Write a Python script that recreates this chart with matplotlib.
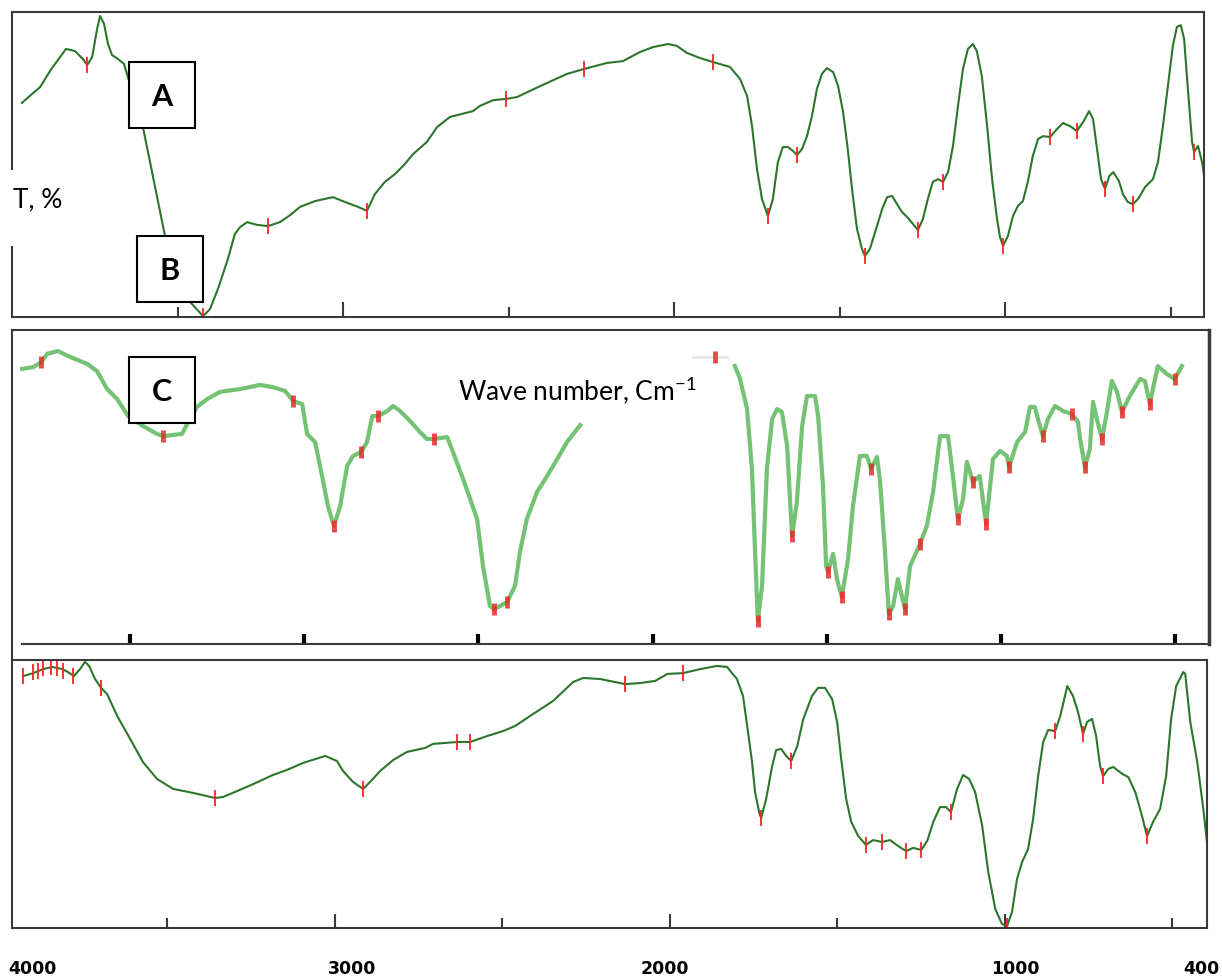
import numpy as np
import matplotlib.pyplot as plt
from matplotlib.patches import Rectangle
from matplotlib.ticker import FixedLocator

W, H = 1222, 978

# ---- spectrum A / B (top) : wavenumber, T
wn_top = [3970, 3946, 3915, 3885, 3855, 3837, 3810, 3786, 3773, 3758, 3743, 3734, 3722, 3710,
          3698, 3680, 3662, 3650, 3604, 3538, 3462, 3423, 3402, 3378, 3348, 3327, 3311, 3290,
          3260, 3227, 3191, 3160, 3130, 3085, 3031, 2994, 2955, 2928, 2904, 2874, 2843, 2813,
          2789, 2747, 2716, 2677, 2608, 2587, 2547, 2508, 2475, 2405, 2324, 2273, 2203, 2155,
          2103, 2064, 2019, 1992, 1962, 1922, 1883, 1832,
          1801, 1780, 1765, 1750, 1735, 1717, 1702, 1687, 1672, 1656, 1641, 1629, 1614, 1599,
          1584, 1569, 1554, 1539, 1520, 1505, 1490, 1477, 1462, 1448, 1433, 1424, 1409, 1393,
          1372, 1357, 1342, 1327, 1312, 1294, 1279, 1264, 1249, 1234, 1219, 1203, 1188, 1173,
          1158, 1143, 1128, 1113, 1098, 1086, 1071, 1055, 1040, 1025, 1016, 1007, 992, 977,
          962, 947, 932, 917, 901, 886, 865, 844, 826, 805, 784, 765, 747, 735, 723, 711, 699,
          686, 674, 657, 645, 630, 615, 599, 578, 554, 539, 524, 509, 494, 482, 470, 460, 448,
          436, 430, 418, 406, 397]
t_top = [70.2, 72.5, 75.4, 80.7, 85.2, 87.9, 87.2, 84.6, 82.6, 85.2, 94.4, 98.7, 96.1, 89.5,
         85.9, 84.6, 83.0, 78.7, 62.0, 26.6, 4.9, 0.3, 2.6, 9.2, 19.0, 27.2, 29.5, 31.1,
         30.2, 29.8, 31.1, 33.4, 36.1, 38.0, 39.3, 37.7, 36.1, 34.8, 40.3, 44.3, 46.9, 50.2,
         53.4, 57.4, 62.3, 65.6, 67.5, 69.2, 71.1, 71.5, 72.1, 75.7, 79.7, 81.3, 83.3, 83.9,
         86.9, 88.5, 89.5, 88.9, 86.6, 84.9, 83.6, 82.0,
         78.0, 72.5, 62.6, 48.5, 38.7, 33.1, 38.7, 50.8, 55.7, 55.7, 54.4, 53.1, 55.1, 59.3,
         65.9, 74.8, 79.7, 81.6, 80.3, 75.7, 67.2, 56.1, 41.0, 28.9, 22.3, 20.0, 22.3, 27.9,
         35.4, 39.3, 39.7, 37.0, 34.4, 32.5, 30.5, 28.5, 32.1, 38.7, 44.3, 45.2, 44.3, 47.5,
         56.1, 69.2, 81.3, 87.9, 89.5, 87.2, 79.0, 62.6, 45.2, 32.1, 26.2, 23.3, 26.6, 33.1,
         36.4, 38.0, 44.3, 52.8, 58.4, 59.3, 59.0, 61.6, 63.6, 62.6, 61.0, 63.9, 67.5, 64.9,
         55.1, 45.2, 42.0, 46.2, 47.5, 44.6, 40.3, 37.7, 37.0, 38.7, 42.6, 45.2, 50.8, 62.6,
         75.7, 88.9, 95.1, 95.7, 91.1, 73.8, 57.4, 54.1, 56.1, 50.8, 44.3]
pk_wn_top = [3773, 3423, 3227, 2928, 2508, 2273, 1883, 1717, 1629, 1424, 1264, 1188, 1007,
             865, 784, 699, 615, 430]
pk_t_top = [82.6, 0.3, 29.8, 34.8, 71.5, 81.3, 83.6, 33.1, 53.1, 20.0, 28.5, 44.3, 23.3,
            59.0, 61.0, 42.0, 37.0, 54.1]

# ---- spectrum C (middle)
wn_mid1 = [3810, 3778, 3755, 3738, 3707, 3672, 3623, 3595, 3566, 3537, 3506, 3463, 3423, 3405,
           3351, 3336, 3308, 3279, 3242, 3184, 3127, 3090, 3055, 3032, 3006, 2992, 2969, 2949,
           2932, 2915, 2897, 2877, 2860, 2837, 2820, 2805, 2788, 2762, 2745, 2725, 2696, 2668,
           2648, 2628, 2590, 2573, 2544, 2524, 2504, 2487, 2467, 2455, 2438, 2418, 2395, 2381,
           2361, 2332, 2303, 2274, 2246, 2208]
t_mid1 = [87.6, 88.2, 89.8, 92.4, 93.3, 91.4, 89.2, 86.9, 81.2, 78.0, 72.6, 69.4, 66.9, 66.2,
          66.9, 70.1, 75.5, 78.0, 80.3, 81.2, 82.5, 81.8, 80.6, 77.4, 76.4, 66.9, 64.3, 53.5,
          43.9, 37.6, 43.9, 56.7, 59.9, 61.1, 64.3, 72.6, 72.6, 74.2, 75.8, 74.2, 71.0, 67.5,
          65.3, 65.3, 65.9, 61.1, 52.5, 46.2, 39.8, 24.8, 12.1, 11.1, 12.1, 13.4, 18.5, 29.3,
          39.8, 48.4, 53.5, 58.9, 64.3, 69.7]
wn_mid_frag = [1884, 1787]
t_mid_frag = [91.4, 91.4]
wn_mid2 = [1764, 1749, 1729, 1715, 1706, 1698, 1686, 1672, 1657, 1643, 1629, 1614, 1600, 1586,
           1571, 1557, 1534, 1525, 1511, 1502, 1497, 1482, 1471, 1457, 1439, 1425, 1405, 1385,
           1373, 1356, 1347, 1333, 1322, 1310, 1296, 1276, 1261, 1233, 1213, 1195, 1175, 1152,
           1138, 1124, 1109, 1098, 1083, 1081, 1061, 1043, 1023, 1003, 983, 977, 954, 931, 917,
           903, 894, 880, 865, 845, 822, 796, 779, 773, 759, 745, 736, 725, 710, 696, 682, 667,
           653, 630, 601, 587, 573, 550, 524, 501, 481]
t_mid2 = [88.5, 84.4, 74.8, 55.7, 29.3, 7.3, 18.5, 55.7, 71.7, 74.8, 73.9, 63.1, 34.4, 45.2,
          69.4, 79.0, 79.0, 72.6, 50.3, 24.8, 22.9, 28.7, 20.7, 15.0, 27.1, 43.9, 59.9, 59.9,
          55.7, 59.6, 51.6, 29.3, 9.6, 12.1, 20.7, 11.1, 24.8, 31.8, 37.6, 48.4, 66.2, 66.2,
          53.5, 39.8, 46.2, 58.0, 52.5, 51.6, 53.5, 38.2, 58.9, 61.5, 59.9, 56.4, 64.3, 67.5, 75.5,
          75.5, 71.7, 66.2, 71.7, 75.8, 74.2, 73.2, 70.7, 65.3, 56.4, 62.1, 77.1, 71.7, 65.3, 73.9,
          83.8, 80.3, 73.9, 79.0, 84.4, 83.8, 76.4, 88.5, 86.0, 84.4, 88.5]
pk_wn_mid = [3755, 3405, 3032, 2915, 2837, 2788, 2628, 2455, 2418, 1822, 1698, 1600, 1497,
             1457, 1373, 1322, 1276, 1233, 1124, 1081, 1043, 977, 880, 796, 759, 710, 653, 573, 501]
pk_t_mid = [89.8, 66.2, 77.4, 37.6, 61.1, 72.6, 65.3, 11.1, 13.4, 91.4, 7.3, 34.4, 22.9,
            15.0, 55.7, 9.6, 11.1, 31.8, 39.8, 51.6, 38.2, 56.4, 66.2, 73.2, 56.4, 65.3, 73.9, 76.4, 84.4]

# ---- bottom spectrum
wn_bot = [3930, 3900, 3870, 3843, 3813, 3796, 3778, 3760, 3745, 3733, 3715, 3697, 3679, 3649,
          3610, 3572, 3530, 3482, 3422, 3357, 3333, 3291, 3243, 3184, 3142, 3094, 3028, 2993,
          2975, 2945, 2915, 2894, 2864, 2825, 2784, 2730, 2706, 2634, 2596, 2545, 2497, 2461,
          2407, 2348, 2288, 2258, 2207, 2133, 2088, 2043, 2007, 1960, 1909, 1858, 1828,
          1819, 1799, 1781, 1766, 1754, 1745, 1733, 1727, 1712, 1694, 1682, 1667, 1652, 1637,
          1619, 1601, 1575, 1557, 1536, 1515, 1500, 1488, 1473, 1458, 1437, 1414, 1393, 1366,
          1342, 1318, 1294, 1273, 1249, 1231, 1213, 1193, 1175, 1160, 1142, 1124, 1106, 1088,
          1067, 1049, 1028, 1008, 993, 978, 963, 948, 930, 915, 900, 885, 870, 849, 834, 813,
          796, 781, 766, 754, 739, 727, 715, 706, 691, 676, 649, 631, 610, 590, 575, 557, 536,
          518, 503, 488, 467, 461, 446, 425, 407, 396]
t_bot = [94.0, 95.1, 96.6, 97.4, 96.6, 95.5, 94.0, 96.6, 99.3, 97.8, 92.9, 89.6, 87.3, 79.1,
         70.5, 61.9, 55.6, 51.9, 50.4, 48.5, 48.9, 51.1, 53.7, 57.1, 59.0, 61.6, 64.2, 62.3,
         58.6, 54.5, 51.9, 54.5, 58.6, 62.7, 65.7, 67.2, 68.7, 69.4, 69.4, 71.6, 73.5, 75.4,
         79.9, 84.7, 91.8, 93.3, 92.9, 91.0, 91.4, 92.2, 94.8, 95.1, 96.6, 97.8, 97.4,
         95.9, 92.9, 86.6, 73.1, 61.9, 50.7, 43.3, 41.0, 48.1, 60.4, 66.4, 66.8, 64.2, 62.3,
         67.9, 78.0, 86.6, 89.6, 89.6, 85.4, 76.9, 63.1, 48.1, 39.6, 34.3, 31.0, 32.8, 32.1,
         32.8, 30.6, 28.7, 29.9, 29.1, 32.5, 39.6, 45.1, 45.1, 43.3, 51.9, 57.1, 55.6, 50.7,
         38.1, 20.9, 7.1, 1.5, 0.7, 6.0, 18.3, 24.6, 29.5, 40.7, 56.7, 69.4, 73.9, 73.5, 79.1, 90.3,
         86.6, 80.6, 72.4, 76.9, 78.0, 71.6, 60.4, 56.7, 59.3, 60.1, 57.5, 56.3, 50.7, 41.8, 34.3,
         39.6, 44.4, 56.7, 78.0, 90.3, 95.5, 94.8, 76.9, 61.9, 44.4, 32.1]
pk_wn_bot = [3930, 3900, 3885, 3870, 3846, 3828, 3810, 3781, 3697, 3357, 2915, 2634, 2596,
             2133, 1960, 1727, 1637, 1414, 1366, 1294, 1249, 1160, 993, 849, 766, 706, 575]
pk_t_bot = [94.1, 95.4, 95.8, 97.0, 97.3, 96.9, 96.0, 94.1, 89.6, 48.5, 51.9, 69.4, 69.4,
            91.0, 95.1, 41.0, 62.3, 31.0, 32.1, 28.7, 29.1, 43.3, 0.7, 73.5, 72.4, 56.7, 34.3]

axis_labels = ['4000', '3000', '2000', '1000', '400']
axis_label_px = [32, 352, 665, 1015, 1201]


def px_rect(x0, y0, x1, y1):
    return [x0 / W, 1 - y1 / H, (x1 - x0) / W, (y1 - y0) / H]


fig = plt.figure(figsize=(W / 100, H / 100), dpi=100)
frame_col = '#3a3a3a'
dark_green = '#2c762c'

# top panel
ax1 = fig.add_axes(px_rect(12, 13, 1204, 318))
ax1.plot(wn_top, t_top, color=dark_green, lw=1.5, solid_joinstyle='round')
ax1.plot(pk_wn_top, pk_t_top, ls='none', marker='|', ms=11, mew=1.3, color='#ff2222')
ax1.set_xlim(4000, 400)
ax1.set_ylim(0, 100)
ax1.spines['left'].set_visible(False)
ax1.plot([0, 0], [0, 0.23], transform=ax1.transAxes, color=frame_col, lw=1.5, clip_on=False)
ax1.plot([0, 0], [0.485, 1], transform=ax1.transAxes, color=frame_col, lw=1.5, clip_on=False)
ax1.xaxis.set_major_locator(FixedLocator([3000, 2000, 1000]))
ax1.xaxis.set_minor_locator(FixedLocator([3500, 2500, 1500, 500]))
ax1.tick_params(axis='x', which='major', direction='in', length=11, width=1.5, color=frame_col)
ax1.tick_params(axis='x', which='minor', direction='in', length=7, width=1.5, color=frame_col)

# middle panel
ax2 = fig.add_axes(px_rect(12, 331, 1209, 645))
mid_green = '#74c274'
ax2.plot(wn_mid1, t_mid1, color=mid_green, lw=3)
ax2.plot(wn_mid2, t_mid2, color=mid_green, lw=3)
ax2.plot(wn_mid_frag, t_mid_frag, color='#e6e6e6', lw=2)
ax2.plot(pk_wn_mid, pk_t_mid, ls='none', marker='|', ms=9, mew=3.5, color='#e82a2a', alpha=0.85)
ax2.set_xlim(3839, 403)
ax2.set_ylim(0, 100)
ax2.xaxis.set_major_locator(FixedLocator([3500, 3000, 2500, 2000, 1500, 1000, 500]))
ax2.tick_params(axis='x', direction='in', length=7, width=3, color='black')
ax2.spines['left'].set_bounds(-5.1, 100)
ax2.spines['bottom'].set_bounds(3810, 403)
ax2.spines['right'].set_linewidth(2.5)

# bottom panel
ax3 = fig.add_axes(px_rect(12, 661, 1207, 929))
ax3.plot(wn_bot, t_bot, color=dark_green, lw=1.5, solid_joinstyle='round')
ax3.plot(pk_wn_bot, pk_t_bot, ls='none', marker='|', ms=11, mew=1.3, color='#ff2222')
ax3.set_xlim(3963, 396)
ax3.set_ylim(0, 100)
ax3.xaxis.set_major_locator(FixedLocator([3000, 2000, 1000]))
ax3.xaxis.set_minor_locator(FixedLocator([3500, 2500, 1500, 500]))
ax3.tick_params(axis='x', which='major', direction='in', length=10, width=1.5, color=frame_col)
ax3.tick_params(axis='x', which='minor', direction='in', length=7, width=1.5, color=frame_col)

for ax in (ax1, ax2, ax3):
    ax.set_yticks([])
    ax.tick_params(axis='x', labelbottom=False)
    for s in ax.spines.values():
        s.set_color(frame_col)
        if s.get_linewidth() < 2:
            s.set_linewidth(1.5)

# A / B / C boxes
for letter, (x0, y0) in zip(['A', 'B', 'C'], [(129, 63), (137, 237), (129, 358)]):
    fig.add_artist(Rectangle((x0 / W, 1 - (y0 + 66) / H), 66 / W, 66 / H,
                             transform=fig.transFigure, facecolor='white',
                             edgecolor='black', lw=1.5, zorder=5))
    fig.text((x0 + 33) / W, 1 - (y0 + 34) / H, letter, fontsize=22, fontweight='bold',
             family='Lato', ha='center', va='center', zorder=6)

fig.text(13 / W, 1 - 200 / H, 'T, %', fontsize=19, family='Lato', ha='left', va='center')
fig.text(458 / W, 1 - 390 / H, r'Wave number, Cm$^{\mathregular{-1}}$', fontsize=19,
         family='Lato', ha='left', va='center')

for lab, px in zip(axis_labels, axis_label_px):
    fig.text(px / W, 1 - 969 / H, lab, fontsize=12.5, fontweight='bold',
             family='DejaVu Sans', ha='center', va='center')

fig.savefig('out.png', dpi=100, facecolor='white')
